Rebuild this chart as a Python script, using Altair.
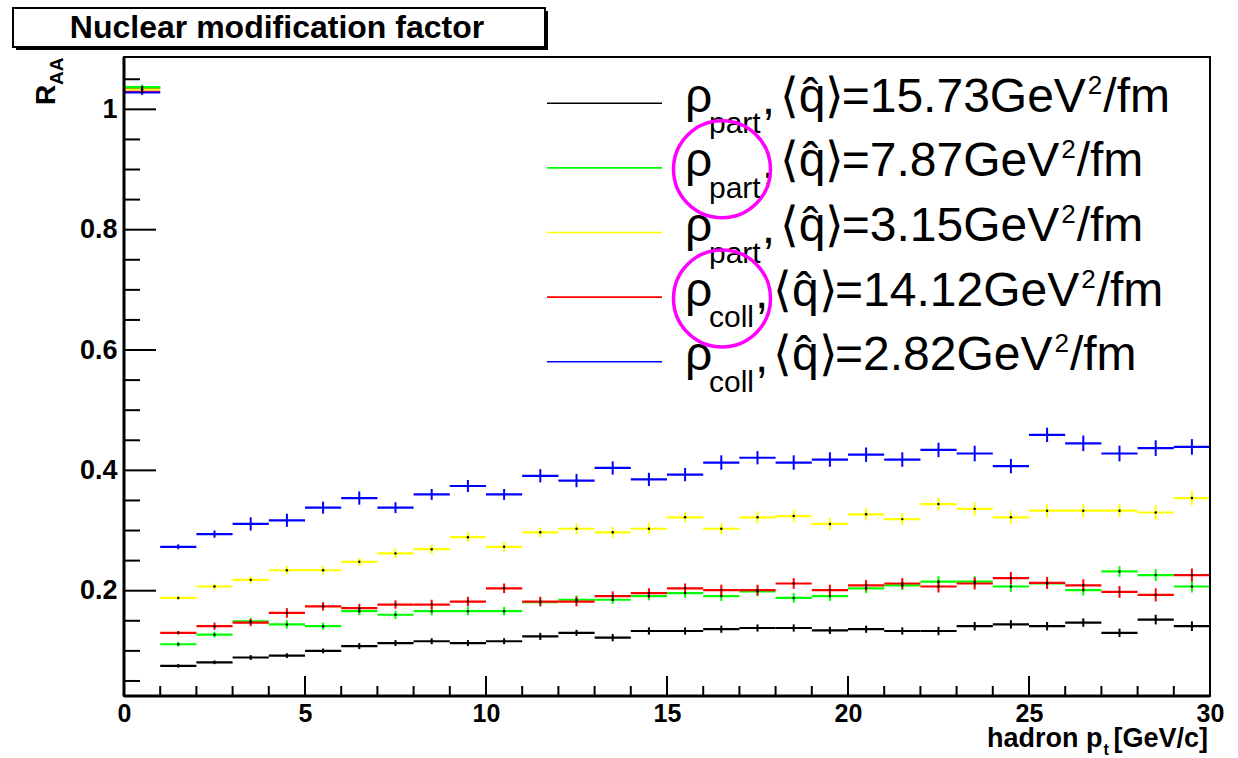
import altair as alt
import pandas as pd

# ---------------- data ----------------
bin_lo = list(range(0, 30))
bin_hi = list(range(1, 31))

series_keys = ["part_15.73", "part_7.87", "part_3.15", "coll_14.12", "coll_2.82"]
series_colors = ["#000000", "#00ff00", "#ffff00", "#ff0000", "#0000ff"]
legend_sub = ["part", "part", "part", "coll", "coll"]
legend_qhat = ["15.73", "7.87", "3.15", "14.12", "2.82"]
legend_line_colors = ["#333333", "#33ff33", "#ffff33", "#ff3333", "#3333ff"]
highlighted_rows = [1, 3]

raa_black = [1.036, 0.075, 0.081, 0.089, 0.092, 0.100, 0.108, 0.113, 0.116, 0.113, 0.116,
             0.124, 0.130, 0.122, 0.133, 0.133, 0.136, 0.138, 0.138, 0.134, 0.136,
             0.133, 0.133, 0.141, 0.144, 0.141, 0.147, 0.130, 0.152, 0.141]
raa_green = [1.037, 0.111, 0.127, 0.149, 0.144, 0.141, 0.166, 0.160, 0.166, 0.166, 0.166,
             0.181, 0.185, 0.185, 0.191, 0.196, 0.191, 0.199, 0.188, 0.191, 0.204,
             0.209, 0.215, 0.215, 0.207, 0.212, 0.201, 0.232, 0.226, 0.207]
raa_yellow = [1.033, 0.188, 0.207, 0.218, 0.234, 0.234, 0.248, 0.262, 0.269, 0.289, 0.273,
              0.297, 0.303, 0.297, 0.303, 0.322, 0.303, 0.322, 0.324, 0.311, 0.327,
              0.319, 0.344, 0.336, 0.322, 0.333, 0.333, 0.333, 0.330, 0.354]
raa_red = [1.029, 0.130, 0.141, 0.147, 0.163, 0.174, 0.171, 0.177, 0.177, 0.182, 0.204,
           0.182, 0.182, 0.191, 0.196, 0.204, 0.201, 0.201, 0.212, 0.201, 0.209,
           0.212, 0.207, 0.212, 0.221, 0.213, 0.209, 0.198, 0.193, 0.226]
raa_blue = [1.028, 0.273, 0.294, 0.311, 0.317, 0.338, 0.354, 0.338, 0.360, 0.374, 0.360,
            0.391, 0.383, 0.404, 0.385, 0.393, 0.413, 0.421, 0.413, 0.418, 0.426,
            0.418, 0.434, 0.428, 0.407, 0.459, 0.445, 0.428, 0.437, 0.439]

err_black = [0.004, 0.003, 0.003, 0.004, 0.004, 0.004, 0.005, 0.005, 0.005, 0.005, 0.005,
             0.006, 0.005, 0.006, 0.006, 0.006, 0.006, 0.006, 0.006, 0.006, 0.006,
             0.006, 0.007, 0.007, 0.007, 0.007, 0.007, 0.007, 0.008, 0.008]
err_green = [0.004, 0.004, 0.005, 0.006, 0.007, 0.006, 0.007, 0.007, 0.007, 0.007, 0.007,
             0.007, 0.007, 0.007, 0.007, 0.008, 0.008, 0.008, 0.008, 0.008, 0.008,
             0.008, 0.009, 0.009, 0.009, 0.009, 0.009, 0.009, 0.010, 0.010]
err_yellow = [0.004, 0.003, 0.005, 0.006, 0.007, 0.007, 0.007, 0.008, 0.008, 0.008, 0.008,
              0.008, 0.009, 0.009, 0.009, 0.009, 0.009, 0.010, 0.010, 0.010, 0.010,
              0.010, 0.011, 0.011, 0.011, 0.011, 0.011, 0.011, 0.012, 0.012]
err_red = [0.004, 0.003, 0.006, 0.006, 0.008, 0.007, 0.007, 0.007, 0.008, 0.008, 0.008,
           0.008, 0.008, 0.008, 0.008, 0.008, 0.009, 0.009, 0.009, 0.009, 0.009,
           0.009, 0.010, 0.010, 0.010, 0.010, 0.010, 0.010, 0.011, 0.011]
err_blue = [0.004, 0.004, 0.006, 0.011, 0.011, 0.010, 0.011, 0.009, 0.009, 0.010, 0.009,
            0.011, 0.011, 0.011, 0.011, 0.011, 0.012, 0.011, 0.012, 0.012, 0.012,
            0.012, 0.012, 0.013, 0.012, 0.012, 0.013, 0.013, 0.013, 0.013]

all_vals = [raa_black, raa_green, raa_yellow, raa_red, raa_blue]
all_errs = [err_black, err_green, err_yellow, err_red, err_blue]
dot_series = series_keys[:4]

x_ticks_major = [0, 5, 10, 15, 20, 25, 30]
x_ticks_minor = [i for i in range(31) if i % 5 != 0]
y_ticks_major = [0.2, 0.4, 0.6, 0.8, 1.0]
y_ticks_minor = [0.05, 0.1, 0.15, 0.25, 0.3, 0.35, 0.45, 0.5, 0.55, 0.65, 0.7, 0.75,
                 0.85, 0.9, 0.95, 1.05]

title_text = "Nuclear modification factor"

# ---------------- layout ----------------
W, H = 1086, 639
LEFT, TOP = 124, 57
X0, X1 = 0.0, 30.0
Y0, Y1 = 0.025, 1.087
FONT = "Liberation Sans"


def px2x(px):
    return X0 + (px - LEFT) / W * (X1 - X0)


def py2y(py):
    return Y1 - (py - TOP) / H * (Y1 - Y0)


REG = {'=': 584, '.': 278, 'G': 778, 'e': 556, 'V': 667, 'p': 556, 'a': 556, 'r': 333,
       't': 278, 'c': 500, 'o': 556, 'l': 222, ',': 278, '/': 278, 'f': 278, 'm': 833}
BOLD = {'h': 611, 'a': 556, 'd': 611, 'r': 389, 'o': 611, 'n': 611, ' ': 278, 'p': 611,
        't': 333, '[': 333, 'G': 778, 'e': 556, 'V': 667, '/': 278, 'c': 556, ']': 333}


def tw(s, fs, table):
    return sum(table.get(ch, 556) for ch in s) * fs / 1000.0


# ---------------- tables ----------------
rows = []
for key, vals, errs in zip(series_keys, all_vals, all_errs):
    for lo, hi, v, e in zip(bin_lo, bin_hi, vals, errs):
        rows.append({"s": key, "lo": lo, "hi": hi, "c": (lo + hi) / 2.0, "v": v,
                     "elo": v - e, "ehi": v + e})
hist = pd.DataFrame(rows)
dots = hist[hist["s"].isin(dot_series)]

xs = alt.Scale(domain=[X0, X1], nice=False, zero=False)
ys = alt.Scale(domain=[Y0, Y1], nice=False, zero=False)
xaxis = alt.Axis(values=x_ticks_major, format="d", ticks=False, domain=False, grid=False,
                 labelFont=FONT, labelFontWeight="bold", labelFontSize=25, labelColor="black",
                 labelPadding=5, labelFlush=False, labelOverlap=False, title=None)
yaxis = alt.Axis(values=y_ticks_major, format=".1~f", ticks=False, domain=False, grid=False,
                 labelFont=FONT, labelFontWeight="bold", labelFontSize=27, labelColor="black",
                 labelPadding=7, labelFlush=False, labelOverlap=False, title=None)


def X(f):
    return alt.X(f, type="quantitative", scale=xs, axis=xaxis)


def Y(f):
    return alt.Y(f, type="quantitative", scale=ys, axis=yaxis)


color = alt.Color("s:N", scale=alt.Scale(domain=series_keys, range=series_colors), legend=None)

layers = []

# histogram bin segments and error bars
layers.append(alt.Chart(hist).mark_rule(strokeWidth=2.2).encode(
    x=X("lo"), x2="hi", y=Y("v"), color=color))
layers.append(alt.Chart(hist).mark_rule(strokeWidth=2).encode(
    x=X("c"), y=Y("elo"), y2="ehi", color=color))
layers.append(alt.Chart(dots).mark_circle(size=6, color="black", opacity=1).encode(
    x=X("c"), y=Y("v")))

# frame
frame = pd.DataFrame({"a": [X0], "b": [X1], "c": [Y0], "d": [Y1]})
layers.append(alt.Chart(frame).mark_rect(fillOpacity=0, stroke="black", strokeWidth=2).encode(
    x=X("a"), x2="b", y=Y("c"), y2="d"))
layers.append(alt.Chart(frame).mark_rule(strokeWidth=3, color="black").encode(
    x=X("a"), y=Y("c"), y2="d"))
layers.append(alt.Chart(frame).mark_rule(strokeWidth=3, color="black").encode(
    x=X("a"), x2="b", y=Y("c")))

# ticks (inward)
ytm = pd.DataFrame({"v": y_ticks_major, "a": X0, "b": px2x(LEFT + 32)})
ytn = pd.DataFrame({"v": y_ticks_minor, "a": X0, "b": px2x(LEFT + 16)})
xtm = pd.DataFrame({"v": x_ticks_major, "a": Y0, "b": py2y(TOP + H - 20)})
xtn = pd.DataFrame({"v": x_ticks_minor, "a": Y0, "b": py2y(TOP + H - 10)})
for d in (ytm, ytn):
    layers.append(alt.Chart(d).mark_rule(strokeWidth=2, color="black").encode(
        x=X("a"), x2="b", y=Y("v")))
for d in (xtm, xtn):
    layers.append(alt.Chart(d).mark_rule(strokeWidth=2, color="black").encode(
        x=X("v"), y=Y("a"), y2="b"))

# legend
leg_lines = []
leg_text = []
for i, (sub, q, lc) in enumerate(zip(legend_sub, legend_qhat, legend_line_colors)):
    ly = 103.3 + 64.6 * i
    base = ly + 8.5
    leg_lines.append({"s": series_keys[i], "a": px2x(547), "b": px2x(662), "y": py2y(ly)})
    fs_main, fs_sub, fs_sup = 48, 30, 26
    sub_x = 709
    comma_x = sub_x + tw(sub, fs_sub, REG) + 1
    ang_x = comma_x + 18
    eq_x = ang_x + 62
    eq_s = "=" + q + "GeV"
    sup_x = eq_x + tw(eq_s, fs_main, REG) + 2
    fm_x = sup_x + 0.556 * fs_sup + 1
    pieces = [
        ("\u03c1", 685, base, fs_main),
        (sub, sub_x, ly + 30, fs_sub),
        (",", comma_x, base + 2, fs_main),
        ("\u27e8q\u0302\u27e9", ang_x, base, fs_main),
        (eq_s, eq_x, base, fs_main),
        ("2", sup_x, base - 18, fs_sup),
        ("/fm", fm_x, base, fs_main),
    ]
    for t, px, py, fs in pieces:
        leg_text.append({"t": t, "x": px2x(px), "y": py2y(py), "fs": fs})

leg_lines = pd.DataFrame(leg_lines)
leg_text = pd.DataFrame(leg_text)
layers.append(alt.Chart(leg_lines).mark_rule(strokeWidth=1.6).encode(
    x=X("a"), x2="b", y=Y("y"),
    color=alt.Color("s:N", scale=alt.Scale(domain=series_keys, range=legend_line_colors),
                    legend=None)))
layers.append(alt.Chart(leg_text).mark_text(align="left", baseline="alphabetic", font=FONT,
                                            color="black").encode(
    x=X("x"), y=Y("y"), text="t:N", size=alt.Size("fs:Q", scale=None, legend=None)))

# magenta highlight circles around the rho symbols of rows 2 and 4
circ = pd.DataFrame([{"x": px2x(722), "y": py2y(104.7 + 64.6 * r)} for r in highlighted_rows])
layers.append(alt.Chart(circ).mark_point(shape="circle", filled=False, color="#ff00ff",
                                         strokeWidth=3.5, size=97 * 97, opacity=1).encode(
    x=X("x"), y=Y("y")))

# x axis title: hadron p_t [GeV/c]
fsb = 27
gv_w = tw("[GeV/c]", fsb, BOLD)
gv_x = 1208 - gv_w
t_x = gv_x - 10
hp_x = t_x - 1 - tw("hadron p", fsb, BOLD)
xt = pd.DataFrame([
    {"t": "hadron p", "x": px2x(hp_x), "y": py2y(747), "fs": fsb},
    {"t": "t", "x": px2x(t_x), "y": py2y(755), "fs": 16},
    {"t": "[GeV/c]", "x": px2x(gv_x), "y": py2y(747), "fs": fsb},
])
layers.append(alt.Chart(xt).mark_text(align="left", baseline="alphabetic", font=FONT,
                                      fontWeight="bold", color="black").encode(
    x=X("x"), y=Y("y"), text="t:N", size=alt.Size("fs:Q", scale=None, legend=None)))

# y axis title: R_AA (rotated)
yt = pd.DataFrame([
    {"t": "R", "x": px2x(55), "y": py2y(105), "fs": 28},
    {"t": "AA", "x": px2x(63), "y": py2y(85), "fs": 19},
])
layers.append(alt.Chart(yt).mark_text(align="left", baseline="alphabetic", font=FONT,
                                      fontWeight="bold", color="black", angle=270).encode(
    x=X("x"), y=Y("y"), text="t:N", size=alt.Size("fs:Q", scale=None, legend=None)))

# title box with shadow
shadow = pd.DataFrame({"a": [px2x(16)], "b": [px2x(548)], "c": [py2y(11)], "d": [py2y(50)]})
box = pd.DataFrame({"a": [px2x(13)], "b": [px2x(545)], "c": [py2y(8)], "d": [py2y(47)]})
layers.append(alt.Chart(shadow).mark_rect(color="black").encode(
    x=X("a"), x2="b", y=Y("c"), y2="d"))
layers.append(alt.Chart(box).mark_rect(fill="white", stroke="black", strokeWidth=2).encode(
    x=X("a"), x2="b", y=Y("c"), y2="d"))
tt = pd.DataFrame({"t": [title_text], "x": [px2x(277)], "y": [py2y(38)]})
layers.append(alt.Chart(tt).mark_text(align="center", baseline="alphabetic", font=FONT,
                                      fontWeight="bold", fontSize=32, color="black").encode(
    x=X("x"), y=Y("y"), text="t:N"))

chart = alt.layer(*layers).properties(
    width=W, height=H,
    padding={"left": LEFT, "top": TOP, "right": 1238 - LEFT - W, "bottom": 758 - TOP - H},
    autosize=alt.AutoSizeParams(type="none"),
    background="white",
).configure_view(stroke=None)

chart.save("out.html", embed_options={"renderer": "svg", "actions": False})
